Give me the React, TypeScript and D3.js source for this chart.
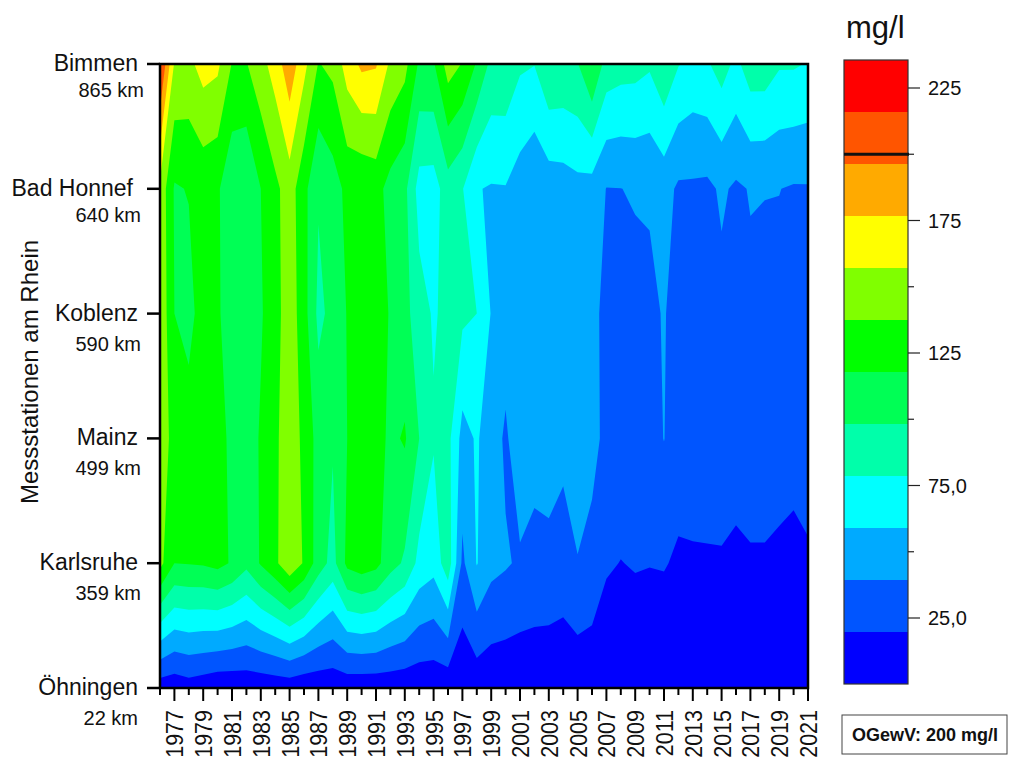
import React, { useEffect, useRef } from 'react';
import * as d3 from 'd3';

// Chlorid im Rhein, Jahresmittel (mg/l)
const years = d3.range(1976, 2022);
const stations = ['Öhningen', 'Karlsruhe', 'Mainz', 'Koblenz', 'Bad Honnef', 'Bimmen'];
const stationKm = ['22 km', '359 km', '499 km', '590 km', '640 km', '865 km'];

const oehningen = [9, 7, 11, 8, 4, 4.5, 6, 6, 7, 8, 5, 5.5, 6, 6.7, 6, 6, 6.5, 6, 6, 6.4, 5.6, 5, 7, 6, 6, 6, 6, 6, 6, 6, 6, 6, 6, 6, 6, 6, 6, 6, 6, 6, 6, 6, 6, 6, 6, 6];
const karlsruhe = [146, 120, 121, 122, 126, 118, 105, 122, 136, 155, 138, 110, 93, 125, 131, 126, 108, 97, 74, 67, 92, 36, 61, 46, 42, 37.4, 34.7, 33.8, 30.7, 39, 33.8, 22, 19.6, 21.2, 20.5, 21, 17.8, 18.3, 18.5, 18.7, 16.5, 18.4, 18.4, 16.6, 14.1, 17.8];
const mainz = [158, 129, 130, 130, 128, 115, 110, 122, 136, 152, 135, 112, 102, 120, 128, 128, 116, 122, 100, 82, 86, 53, 62, 50, 37, 53, 46.7, 51, 45.8, 53, 46, 35, 32, 32, 32, 40.5, 28, 28, 28, 28, 28, 28, 28, 28, 28, 28];
const koblenz = [157, 120, 113, 130, 122, 112, 108, 118, 132, 152, 128, 95, 106, 121, 131, 132, 118, 107, 88, 78, 85, 84, 80, 59, 50, 52, 48, 50, 48, 50, 45, 35, 34, 34.3, 36.8, 41, 34, 33, 33, 35, 33, 36.4, 35, 35, 33, 33];
const badHonnef = [155, 118, 121, 126, 123, 104, 101, 120, 135, 150, 126, 102, 111, 125, 123, 127, 113, 105, 72, 71, 91, 81, 61, 58.5, 59, 50.5, 42.7, 49, 50.5, 54, 51.7, 39.5, 39.8, 41.5, 41.6, 47.2, 37, 37, 36, 42.6, 37.3, 41, 40.5, 40.3, 38.3, 38.5];
const bimmen = [225, 158, 155, 168, 164, 139, 139, 153, 169, 193, 166, 139, 145, 169, 184, 182, 156, 146, 117, 118, 149, 139, 118, 95, 95, 83, 80.5, 98, 96, 99, 121, 92, 88, 87, 82.6, 97, 81, 74.5, 77.7, 89, 75, 91, 91, 82, 82, 79];
const rows = [oehningen, karlsruhe, mainz, koblenz, badHonnef, bimmen];

const bandColors = ['#0000ff', '#0055ff', '#00aaff', '#00ffff', '#00ffaa', '#00ff55', '#00ff00', '#80ff00', '#ffff00', '#ffaa00', '#ff5500', '#ff0000'];
const barTicks = [25, 50, 75, 100, 125, 150, 175, 200, 225];
const barLabels: Record<number, string> = { 25: '25,0', 75: '75,0', 125: '125', 175: '175', 225: '225' };
const limitValue = 200;
const bandStep = 19.6; // Origin-Stufen: 0..235 in 12 Klassen
const readScale = bandStep / 20;

const FONT = '"Liberation Sans", Arial, sans-serif';

const App: React.FC = () => {
  const svgRef = useRef<SVGSVGElement | null>(null);

  useEffect(() => {
    if (!svgRef.current) return;
    const svg = d3.select(svgRef.current);
    svg.selectAll('*').remove();

    const x = d3.scaleLinear().domain([1976, 2021]).range([160, 808]);
    const y = d3.scaleLinear().domain([0, stations.length - 1]).range([688, 64]);
    const barY = d3.scaleLinear().domain([25, 225]).range([618, 88]);
    const barBand = d3.scaleLinear().domain([0, bandColors.length]).range([684, 60]);

    svg.append('defs').append('clipPath').attr('id', 'plot-clip')
      .append('rect')
      .attr('x', x.range()[0]).attr('y', y.range()[1])
      .attr('width', x.range()[1] - x.range()[0])
      .attr('height', y.range()[0] - y.range()[1]);

    // contour grid cell centres sit at index + 0.5
    const toScreen = d3.geoTransform({
      point(this: any, cx: number, cy: number) {
        this.stream.point(x(years[0] + cx - 0.5), y(cy - 0.5));
      },
    });
    const path = d3.geoPath(toScreen);

    const values = rows.flat().map(v => v * readScale);
    const contours = d3.contours()
      .size([years.length, rows.length])
      .thresholds(d3.range(1, bandColors.length).map(k => k * bandStep))(values);

    const plot = svg.append('g').attr('clip-path', 'url(#plot-clip)');
    plot.append('rect')
      .attr('x', x.range()[0]).attr('y', y.range()[1])
      .attr('width', x.range()[1] - x.range()[0])
      .attr('height', y.range()[0] - y.range()[1])
      .attr('fill', bandColors[0]);
    plot.selectAll('path')
      .data(contours)
      .join('path')
      .attr('d', d => path(d as any))
      .attr('fill', (_, i) => bandColors[i + 1]);

    // frame
    svg.append('rect')
      .attr('x', x.range()[0]).attr('y', y.range()[1])
      .attr('width', x.range()[1] - x.range()[0])
      .attr('height', y.range()[0] - y.range()[1])
      .attr('fill', 'none').attr('stroke', '#000').attr('stroke-width', 2.5);

    // x axis
    const xAxis = svg.append('g').attr('font-family', FONT);
    xAxis.selectAll('line')
      .data(years)
      .join('line')
      .attr('x1', d => x(d)).attr('x2', d => x(d))
      .attr('y1', 688).attr('y2', d => (d % 2 === 1 ? 701 : 695))
      .attr('stroke', '#000').attr('stroke-width', 2);
    xAxis.selectAll('text')
      .data(years.filter(d => d % 2 === 1))
      .join('text')
      .attr('transform', d => `translate(${x(d) + 9},710) rotate(-90) scale(1,1.14)`)
      .attr('text-anchor', 'end')
      .attr('font-size', 21.5)
      .attr('fill', '#111')
      .text(d => d);

    // y axis
    const yAxis = svg.append('g').attr('font-family', FONT).attr('fill', '#111');
    yAxis.selectAll('line')
      .data(stations)
      .join('line')
      .attr('x1', 147).attr('x2', 160)
      .attr('y1', (_, i) => y(i)).attr('y2', (_, i) => y(i))
      .attr('stroke', '#000').attr('stroke-width', 2.5);
    yAxis.selectAll('text.name')
      .data(stations)
      .join('text')
      .attr('class', 'name')
      .attr('x', (_, i) => (i === 4 ? 133 : 138))
      .attr('y', (_, i) => y(i) + 7)
      .attr('text-anchor', 'end')
      .attr('font-size', 23)
      .text(d => d);
    yAxis.selectAll('text.km')
      .data(stationKm)
      .join('text')
      .attr('class', 'km')
      .attr('x', (_, i) => (i === 5 ? 144 : i === 0 ? 138 : 141))
      .attr('y', (_, i) => y(i) + (i >= 4 ? 33 : 37))
      .attr('text-anchor', 'end')
      .attr('font-size', 20)
      .text(d => d);
    svg.append('text')
      .attr('transform', 'translate(38,372) rotate(-90)')
      .attr('text-anchor', 'middle')
      .attr('font-family', FONT)
      .attr('font-size', 24)
      .attr('fill', '#111')
      .text('Messstationen am Rhein');

    // colour bar
    const bar = svg.append('g').attr('font-family', FONT).attr('fill', '#111');
    bar.selectAll('rect')
      .data(bandColors)
      .join('rect')
      .attr('x', 844).attr('width', 64)
      .attr('y', (_, i) => barBand(i + 1))
      .attr('height', (_, i) => barBand(i) - barBand(i + 1))
      .attr('fill', d => d);
    bar.append('rect')
      .attr('x', 844).attr('y', 60).attr('width', 64).attr('height', 624)
      .attr('fill', 'none').attr('stroke', '#333').attr('stroke-width', 1.2);
    bar.selectAll('line.tick')
      .data(barTicks)
      .join('line')
      .attr('class', 'tick')
      .attr('x1', 908).attr('x2', d => (barLabels[d] ? 920 : 914))
      .attr('y1', d => barY(d)).attr('y2', d => barY(d))
      .attr('stroke', '#222').attr('stroke-width', 1.2);
    bar.selectAll('text.tick')
      .data(barTicks.filter(d => barLabels[d]))
      .join('text')
      .attr('class', 'tick')
      .attr('x', 928)
      .attr('y', d => barY(d) + 7)
      .attr('font-size', 20)
      .text(d => barLabels[d]);
    bar.append('line')
      .attr('x1', 844).attr('x2', 909)
      .attr('y1', barY(limitValue)).attr('y2', barY(limitValue))
      .attr('stroke', '#111').attr('stroke-width', 3);
    bar.append('text')
      .attr('x', 846).attr('y', 38)
      .attr('font-size', 31)
      .text('mg/l');

    // limit value box
    svg.append('rect')
      .attr('x', 842).attr('y', 715).attr('width', 165).attr('height', 39)
      .attr('fill', '#fff').attr('stroke', '#444').attr('stroke-width', 1);
    svg.append('text')
      .attr('x', 852).attr('y', 741)
      .attr('font-family', FONT)
      .attr('font-weight', 'bold')
      .attr('font-size', 18)
      .attr('fill', '#111')
      .text(`OGewV: ${limitValue} mg/l`);
  }, []);

  return (
    <svg
      ref={svgRef}
      width={1011}
      height={759}
      style={{ position: 'absolute', left: 0, top: 0, background: '#fff' }}
    />
  );
};

export default App;
